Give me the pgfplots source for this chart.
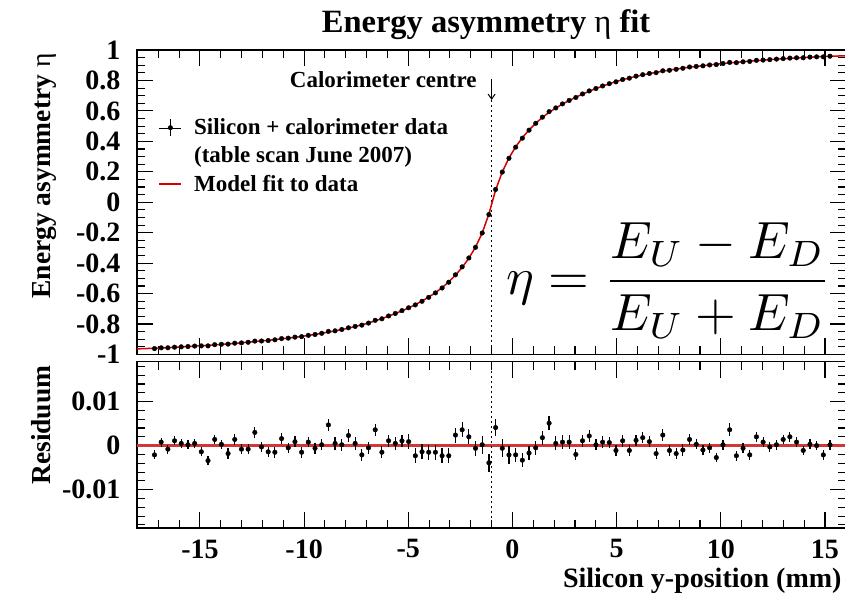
\documentclass[border=0pt]{standalone}
\usepackage[no-math]{fontspec}
\setmainfont{Liberation Serif}
\usepackage{pgfplots}
\usepackage{pgfplotstable}
\pgfplotsset{compat=1.18}
\usetikzlibrary{arrows.meta}

\definecolor{fitred}{RGB}{215,0,0}
\definecolor{zerored}{RGB}{210,55,55}

% table scan: position, asymmetry, fitted model, residual, uncertainty
\pgfplotstableread{
x eta fit res err
-18.020 nan -0.963 nan 0
-17.180 -0.9611 -0.959 -0.0021 0.0010
-16.859 -0.9562 -0.957 0.0008 0.0010
-16.538 -0.9558 -0.955 -0.0008 0.0010
-16.217 -0.9519 -0.953 0.0011 0.0010
-15.896 -0.9495 -0.950 0.0005 0.0010
-15.575 -0.9478 -0.948 0.0002 0.0010
-15.254 -0.9445 -0.945 0.0005 0.0010
-14.933 -0.9434 -0.942 -0.0014 0.0010
-14.612 -0.9434 -0.940 -0.0034 0.0010
-14.291 -0.9356 -0.937 0.0014 0.0010
-13.970 -0.9327 -0.933 0.0003 0.0010
-13.649 -0.9318 -0.930 -0.0018 0.0012
-13.328 -0.9256 -0.927 0.0014 0.0012
-13.007 -0.9238 -0.923 -0.0008 0.0012
-12.686 -0.9198 -0.919 -0.0008 0.0012
-12.365 -0.9120 -0.915 0.0030 0.0012
-12.044 -0.9113 -0.911 -0.0003 0.0012
-11.723 -0.9084 -0.907 -0.0014 0.0012
-11.402 -0.9035 -0.902 -0.0015 0.0012
-11.081 -0.8954 -0.897 0.0016 0.0012
-10.760 -0.8925 -0.892 -0.0005 0.0012
-10.439 -0.8861 -0.887 0.0009 0.0012
-10.118 -0.8825 -0.881 -0.0015 0.0012
-9.797 -0.8742 -0.875 0.0008 0.0012
-9.476 -0.8686 -0.868 -0.0006 0.0012
-9.155 -0.8608 -0.861 0.0002 0.0012
-8.834 -0.8483 -0.853 0.0047 0.0014
-8.513 -0.8445 -0.845 0.0005 0.0014
-8.192 -0.8358 -0.836 0.0002 0.0014
-7.871 -0.8247 -0.827 0.0023 0.0014
-7.550 -0.8155 -0.816 0.0005 0.0014
-7.229 -0.8071 -0.805 -0.0021 0.0014
-6.908 -0.7935 -0.793 -0.0005 0.0014
-6.587 -0.7754 -0.779 0.0036 0.0014
-6.266 -0.7655 -0.764 -0.0015 0.0014
-5.945 -0.7469 -0.748 0.0011 0.0014
-5.624 -0.7305 -0.731 0.0005 0.0014
-5.303 -0.7119 -0.713 0.0011 0.0014
-4.982 -0.6931 -0.694 0.0009 0.0017
-4.661 -0.6743 -0.672 -0.0023 0.0017
-4.340 -0.6504 -0.649 -0.0014 0.0017
-4.019 -0.6245 -0.623 -0.0015 0.0017
-3.698 -0.5955 -0.594 -0.0015 0.0017
-3.377 -0.5633 -0.561 -0.0023 0.0017
-3.056 -0.5253 -0.523 -0.0023 0.0017
-2.735 -0.4766 -0.479 0.0024 0.0017
-2.414 -0.4244 -0.428 0.0036 0.0017
-2.093 -0.3660 -0.368 0.0020 0.0017
-1.772 -0.2956 -0.295 -0.0006 0.0017
-1.451 -0.2018 -0.202 0.0002 0.0020
-1.130 -0.0809 -0.077 -0.0039 0.0020
-0.809 0.0841 0.080 0.0041 0.0020
-0.488 0.1984 0.199 -0.0006 0.0020
-0.167 0.2889 0.291 -0.0021 0.0020
0.154 0.3619 0.364 -0.0021 0.0016
0.475 0.4207 0.424 -0.0033 0.0016
0.796 0.4733 0.475 -0.0017 0.0016
1.117 0.5185 0.519 -0.0005 0.0016
1.438 0.5588 0.557 0.0018 0.0016
1.759 0.5951 0.590 0.0051 0.0016
2.080 0.6195 0.619 0.0005 0.0016
2.401 0.6458 0.645 0.0008 0.0016
2.722 0.6688 0.668 0.0008 0.0016
3.043 0.6880 0.690 -0.0020 0.0013
3.364 0.7111 0.710 0.0011 0.0013
3.685 0.7312 0.729 0.0022 0.0013
4.006 0.7472 0.747 0.0002 0.0013
4.327 0.7638 0.763 0.0008 0.0013
4.648 0.7787 0.778 0.0007 0.0013
4.969 0.7909 0.792 -0.0011 0.0013
5.290 0.8061 0.805 0.0011 0.0013
5.611 0.8149 0.816 -0.0011 0.0013
5.932 0.8282 0.827 0.0012 0.0013
6.253 0.8378 0.836 0.0018 0.0013
6.574 0.8459 0.845 0.0009 0.0013
6.895 0.8512 0.853 -0.0018 0.0013
7.216 0.8634 0.861 0.0024 0.0013
7.537 0.8669 0.868 -0.0011 0.0013
7.858 0.8732 0.875 -0.0018 0.0013
8.179 0.8800 0.881 -0.0010 0.0013
8.500 0.8884 0.887 0.0014 0.0013
8.821 0.8923 0.892 0.0003 0.0011
9.142 0.8960 0.897 -0.0010 0.0011
9.463 0.9015 0.902 -0.0005 0.0011
9.784 0.9043 0.907 -0.0027 0.0011
10.105 0.9112 0.911 0.0002 0.0011
10.426 0.9186 0.915 0.0036 0.0015
10.747 0.9167 0.919 -0.0023 0.0011
11.068 0.9224 0.923 -0.0006 0.0011
11.389 0.9249 0.927 -0.0021 0.0011
11.710 0.9320 0.930 0.0020 0.0011
12.031 0.9338 0.933 0.0008 0.0011
12.352 0.9367 0.937 -0.0003 0.0011
12.673 0.9402 0.940 0.0002 0.0011
12.994 0.9434 0.942 0.0014 0.0011
13.315 0.9470 0.945 0.0020 0.0011
13.636 0.9488 0.948 0.0008 0.0011
13.957 0.9489 0.950 -0.0011 0.0011
14.278 0.9533 0.953 0.0003 0.0011
14.599 0.9550 0.955 0.0000 0.0011
14.920 0.9549 0.957 -0.0021 0.0011
15.241 0.9592 0.959 0.0002 0.0011
16.000 nan 0.962 nan 0
}\scan

\newcommand{\lbl}{\fontsize{28}{30}\selectfont\bfseries}
\newcommand{\ylbl}{\fontsize{27.5}{30}\selectfont\bfseries}
\newcommand{\leg}{\fontsize{23}{25}\selectfont\bfseries}

\begin{document}
\begin{tikzpicture}
\useasboundingbox (0pt,0pt) rectangle (845pt,-601pt);
\pgfplotsset{
  rootpad/.style={
    scale only axis, width=708.8pt,
    xmin=-18.02, xmax=16.0,
    axis line style={line width=1.6pt},
    tick style={black, line width=1.1pt},
    tick align=inside,
    major tick length=16pt, minor tick length=8pt,
    xtick={-15,-10,-5,0,5,10,15},
    minor xtick={-18,-17,...,16},
    tick label style={font=\lbl},
    yticklabel style={xshift=-13pt},
    xticklabel style={yshift=-8pt},
    scaled y ticks=false,
  },
  datapts/.style={black, only marks, mark=*, mark size=2.3pt,
    error bars/y dir=both, error bars/y explicit, error bars/error mark=none,
    error bars/error bar style={line width=1.2pt}},
  centreline/.style={line width=1.6pt, dash pattern=on 1.6pt off 3.4pt, forget plot},
}

% upper pad: asymmetry and fit
\begin{axis}[rootpad, at={(137pt,-50pt)}, anchor=north west, height=304.5pt,
  ymin=-1, ymax=1,
  ytick={-1,-0.8,-0.6,-0.4,-0.2,0,0.2,0.4,0.6,0.8,1},
  yticklabels={-1,-0.8,-0.6,-0.4,-0.2,0,0.2,0.4,0.6,0.8,1},
  minor ytick={-0.95,-0.9,...,0.95},
  xticklabels={},
  legend cell align=left,
  legend style={at={(axis description cs:0.0348,0.780)}, anchor=north west,
    xshift=-3pt, draw=none, fill=none, inner sep=0pt, outer sep=0pt, font=\leg,
    row sep=6.5pt, column sep=10pt},
]
\addplot[centreline] coordinates {(-1,0.672) (-1,-1)};
\addplot[datapts, legend image code/.code={
    \draw[black,line width=1.2pt] (11pt,-8.5pt) -- (11pt,8.5pt);
    \fill[black] (11pt,0pt) circle (2.3pt);
    \path (0pt,0pt) -- (22pt,0pt);}]
  table[x=x, y=eta, y error=err] {\scan};
\addlegendentry{Silicon + calorimeter data}
\addlegendimage{empty legend}
\addlegendentry{(table scan June 2007)}
\addplot[fitred, line width=1.5pt, no markers, legend image code/.code={
    \draw[fitred, line width=1.5pt] (0pt,0pt) -- (22pt,0pt);}]
  table[x=x, y=fit] {\scan};
\addlegendentry{Model fit to data}

\node[anchor=base east, font=\leg] at (axis cs:-1.55,0.751) {Calorimeter centre};
\draw[-{Straight Barb[length=5pt,width=7pt]}, line width=1pt] (axis cs:-1,0.81) -- (axis cs:-1,0.672);
\node[scale=5.24] at (axis cs:7.5,-0.515) {$\displaystyle\eta = \frac{E_U - E_D}{E_U + E_D}$};
\end{axis}

% lower pad: residuals
\begin{axis}[rootpad, at={(137pt,-361.5pt)}, anchor=north west, height=166.5pt,
  ymin=-0.0187, ymax=0.0191,
  ytick={-0.01,0,0.01},
  yticklabels={-0.01,0,0.01},
  minor ytick={-0.018,-0.016,-0.014,-0.012,-0.008,-0.006,-0.004,-0.002,0.002,0.004,0.006,0.008,0.012,0.014,0.016,0.018},
  xticklabels={-15,-10,-5,0,5,10,15},
]
\addplot[zerored, line width=2.4pt, forget plot] coordinates {(-18.02,0) (16,0)};
\addplot[centreline] coordinates {(-1,-0.0187) (-1,0.0191)};
\addplot[datapts] table[x=x, y=res, y error=err] {\scan};
\end{axis}

\node[anchor=base, font=\fontsize{32.5}{34}\selectfont\bfseries] at (486pt,-33pt) {Energy asymmetry {\mdseries η} fit};
\node[anchor=base east, font=\lbl] at (845pt,-587pt) {Silicon y-position (mm)};
\node[rotate=90, anchor=base east, font=\ylbl] at (50pt,-50pt) {Energy asymmetry {\mdseries η}};
\node[rotate=90, anchor=base east, font=\ylbl] at (50pt,-362pt) {Residuum};
\end{tikzpicture}
\end{document}
